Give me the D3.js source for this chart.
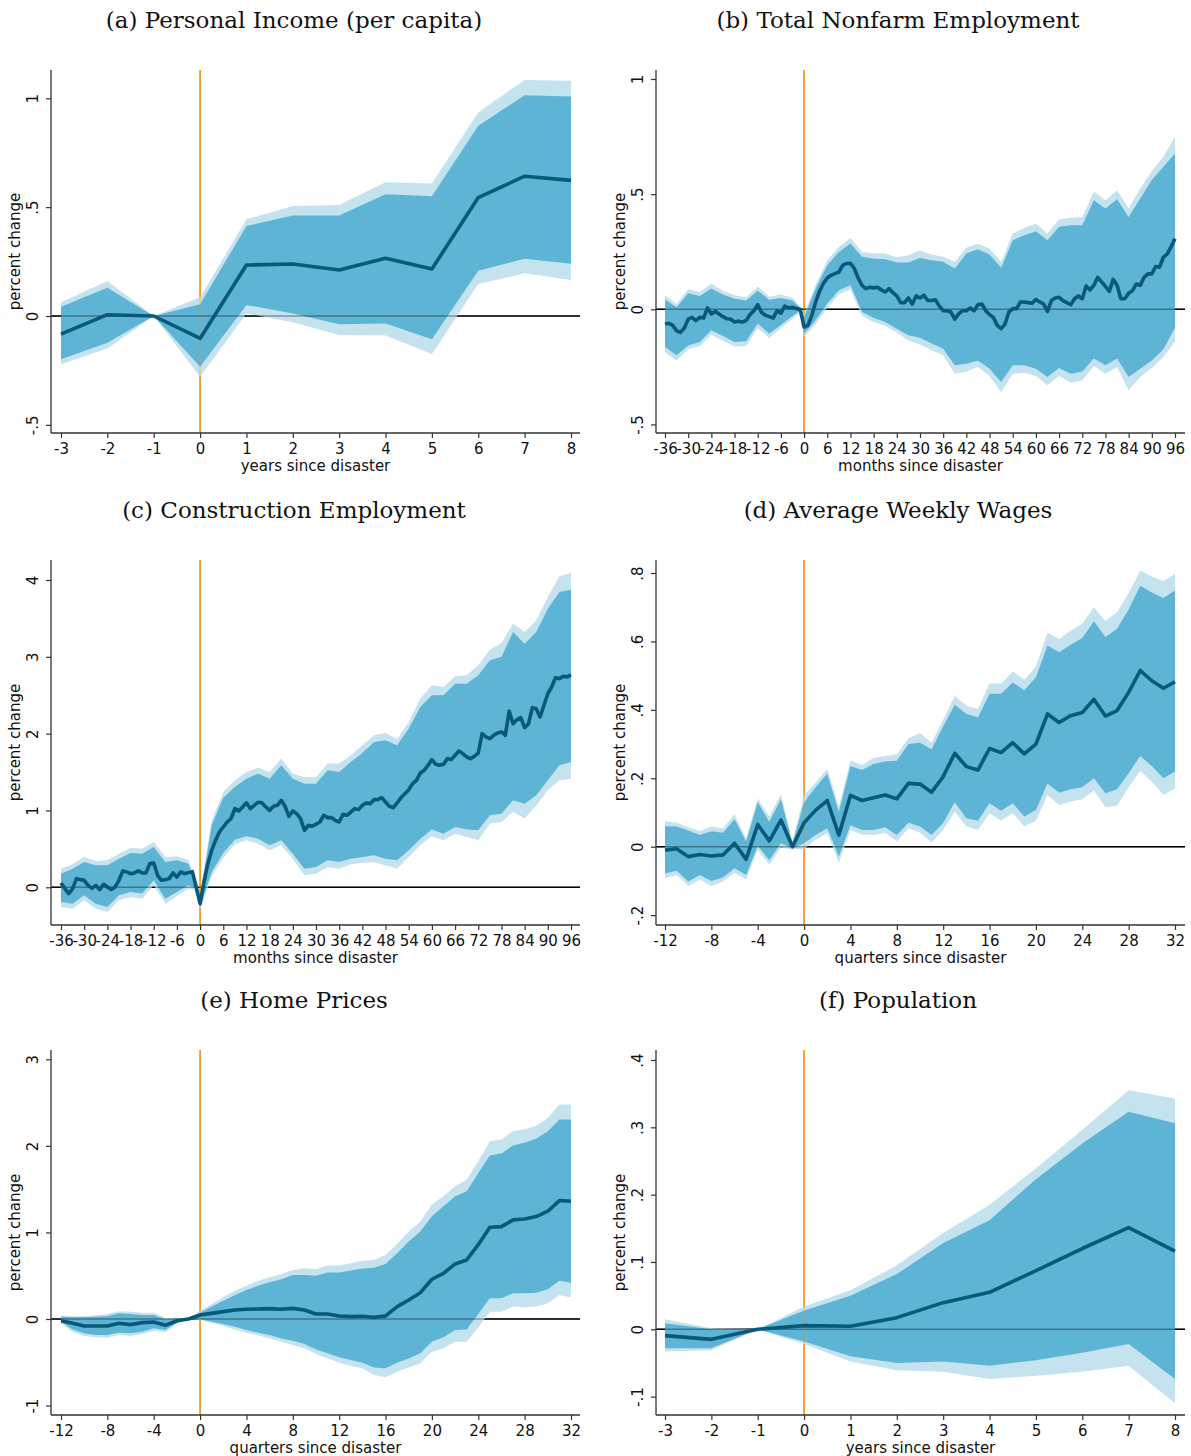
<!DOCTYPE html>
<html>
<head>
<meta charset="utf-8">
<script src="https://cdn.jsdelivr.net/npm/d3@7"></script>
<style>
  html, body { margin: 0; padding: 0; background: #fff; }
  svg { display: block; }
</style>
</head>
<body>
<script>
// ---------------- DATA ----------------
// (a) Personal Income (per capita) - years
const aYears = [-3,-2,-1,0,1,2,3,4,5,6,7,8];
const aMean = [-0.083,0.006,0,-0.103,0.234,0.239,0.211,0.265,0.216,0.544,0.642,0.623];
const aHi90 = [0.043,0.130,0,0.054,0.413,0.462,0.462,0.559,0.550,0.874,1.014,1.008];
const aLo90 = [-0.199,-0.123,0,-0.233,0.051,0.012,-0.038,-0.034,-0.107,0.208,0.263,0.240];
const aHi95 = [0.063,0.161,0,0.086,0.444,0.505,0.510,0.614,0.609,0.936,1.084,1.081];
const aLo95 = [-0.222,-0.149,0,-0.279,0.012,-0.029,-0.087,-0.089,-0.175,0.147,0.196,0.165];

// (b) Total Nonfarm Employment - months
const bMonths = [-36,-35,-34,-33,-32,-31,-30,-29,-28,-27,-26,-25,-24,-23,-22,-21,-20,-19,-18,-17,-16,-15,-14,-13,-12,-11,-10,-9,-8,-7,-6,-5,-4,-3,-2,-1,
  0,1,2,3,4,5,6,7,8,9,10,11,12,13,14,15,16,17,18,19,20,21,22,23,24,25,26,27,28,29,30,31,32,33,34,35,36,37,38,39,40,41,42,43,44,45,46,47,48,
  49,50,51,52,53,54,55,56,57,58,59,60,61,62,63,64,65,66,67,68,69,70,71,72,73,74,75,76,77,78,79,80,81,82,83,84,85,86,87,88,89,90,91,92,93,94,95,96];
const bMean = [-0.064,-0.061,-0.070,-0.093,-0.100,-0.081,-0.043,-0.035,-0.049,-0.035,-0.038,0.006,-0.020,-0.009,-0.020,-0.032,-0.041,-0.043,-0.055,-0.052,-0.055,-0.049,-0.023,-0.006,0.020,-0.014,-0.026,-0.032,-0.038,-0.006,-0.017,0.014,0.006,0.009,0.003,0,
  -0.077,-0.070,-0.026,0.032,0.078,0.112,0.136,0.148,0.155,0.162,0.191,0.199,0.200,0.177,0.136,0.104,0.090,0.096,0.093,0.096,0.084,0.075,0.090,0.072,0.058,0.029,0.029,0.049,0.023,0.058,
  0.049,0.061,0.038,0.038,0.041,0.014,-0.006,-0.006,-0.012,-0.043,-0.020,-0.006,-0.006,0.006,-0.006,0.020,0.023,-0.006,-0.023,-0.035,-0.070,-0.084,-0.064,-0.012,0.003,0.003,0.032,0.032,0.029,0.026,
  0.043,0.032,0.023,-0.009,0.038,0.049,0.052,0.038,0.029,0.020,0.046,0.058,0.046,0.101,0.084,0.104,0.139,0.119,0.099,0.078,0.130,0.104,0.046,0.046,0.070,0.081,0.110,0.104,0.139,0.154,0.154,0.186,0.183,0.226,0.241,0.272,0.307];
const bBandMonths = [-36,-33,-30,-27,-24,-21,-18,-15,-12,-9,-6,-3,-1,0,3,6,9,12,15,18,21,24,27,30,33,36,39,42,45,48,51,54,57,60,63,66,69,72,75,78,81,84,87,90,93,96];
const bHi90 = [0.043,0.009,0.070,0.058,0.090,0.064,0.046,0.038,0.081,0.041,0.049,0.038,0.006,-0.033,0.090,0.191,0.249,0.286,0.228,0.220,0.217,0.203,0.203,0.223,0.213,0.206,0.177,0.242,0.261,0.238,0.180,0.300,0.322,0.339,0.300,0.358,0.365,0.365,0.474,0.438,0.478,0.401,0.481,0.561,0.619,0.677];
const bHi95 = [0.061,0.023,0.087,0.075,0.112,0.081,0.061,0.052,0.099,0.055,0.064,0.049,0.010,-0.020,0.107,0.213,0.271,0.310,0.249,0.242,0.242,0.226,0.235,0.255,0.238,0.228,0.206,0.267,0.286,0.264,0.206,0.329,0.354,0.371,0.329,0.391,0.397,0.401,0.510,0.474,0.517,0.438,0.525,0.600,0.662,0.750];
const bLo90 = [-0.164,-0.200,-0.157,-0.142,-0.091,-0.116,-0.142,-0.139,-0.062,-0.106,-0.067,-0.029,-0.006,-0.106,-0.048,0.025,0.083,0.104,-0.012,-0.038,-0.055,-0.084,-0.113,-0.124,-0.149,-0.171,-0.243,-0.236,-0.222,-0.258,-0.316,-0.243,-0.243,-0.258,-0.294,-0.255,-0.280,-0.270,-0.214,-0.243,-0.214,-0.294,-0.258,-0.222,-0.174,-0.080];
const bLo95 = [-0.186,-0.222,-0.174,-0.159,-0.110,-0.135,-0.161,-0.159,-0.081,-0.125,-0.081,-0.041,-0.012,-0.120,-0.065,0.006,0.064,0.087,-0.029,-0.055,-0.072,-0.101,-0.135,-0.153,-0.178,-0.200,-0.280,-0.270,-0.251,-0.290,-0.360,-0.280,-0.275,-0.290,-0.330,-0.290,-0.319,-0.309,-0.246,-0.280,-0.251,-0.352,-0.294,-0.255,-0.207,-0.140];

// (c) Construction Employment - months
const cMonths = bMonths.slice();
const cMean = [0.056,-0.017,-0.082,-0.017,0.113,0.100,0.091,0.026,-0.013,0.026,-0.030,0.039,0.004,-0.030,0.004,0.091,0.213,0.200,0.178,0.187,0.213,0.187,0.187,0.308,0.317,0.156,0.091,0.100,0.113,0.187,0.134,0.200,0.178,0.191,0.204,0,
  -0.213,0.069,0.308,0.480,0.610,0.720,0.785,0.850,0.894,1.024,0.993,1.046,1.100,1.024,1.067,1.106,1.100,1.046,1.002,1.054,1.067,1.132,1.054,0.924,0.993,0.959,0.894,0.742,0.807,0.795,
  0.820,0.850,0.937,0.907,0.907,0.872,0.850,0.950,0.937,0.980,1.024,1.011,1.067,1.098,1.089,1.141,1.141,1.167,1.111,1.054,1.037,1.098,1.167,1.219,1.271,1.349,1.393,1.488,1.523,1.588,
  1.662,1.601,1.588,1.601,1.675,1.662,1.718,1.774,1.740,1.696,1.675,1.705,1.748,2.000,1.957,1.935,1.978,2.009,2.022,1.978,2.295,2.130,2.182,2.208,2.078,2.130,2.338,2.325,2.217,2.369,2.521,2.607,2.729,2.716,2.746,2.738,2.764];
const cBandMonths = bBandMonths.slice();
const cHi90 = [0.178,0.243,0.330,0.286,0.286,0.373,0.447,0.438,0.525,0.330,0.351,0.308,0.026,-0.126,0.807,1.167,1.306,1.414,1.479,1.414,1.588,1.414,1.349,1.349,1.523,1.501,1.631,1.748,1.892,1.913,1.848,2.065,2.347,2.499,2.499,2.651,2.651,2.759,2.954,2.998,3.323,3.171,3.323,3.627,3.844,3.874];
const cHi95 = [0.243,0.300,0.395,0.343,0.351,0.438,0.516,0.503,0.590,0.395,0.403,0.360,0.048,-0.082,0.872,1.240,1.393,1.501,1.557,1.501,1.675,1.479,1.436,1.436,1.610,1.610,1.718,1.848,1.978,2.009,1.935,2.152,2.456,2.629,2.607,2.746,2.759,2.889,3.093,3.180,3.432,3.323,3.475,3.779,4.048,4.091];
const cLo90 = [-0.191,-0.213,-0.104,-0.213,-0.256,-0.104,-0.061,-0.082,0.091,-0.148,-0.061,0.026,-0.017,-0.256,0.200,0.447,0.620,0.664,0.633,0.547,0.612,0.438,0.243,0.265,0.351,0.330,0.373,0.395,0.416,0.373,0.351,0.482,0.633,0.751,0.698,0.785,0.751,0.742,0.937,0.959,1.132,1.089,1.197,1.393,1.588,1.631];
const cLo95 = [-0.256,-0.278,-0.169,-0.278,-0.321,-0.169,-0.126,-0.148,0.026,-0.213,-0.117,-0.017,-0.039,-0.300,0.143,0.386,0.560,0.612,0.568,0.482,0.547,0.373,0.156,0.178,0.265,0.243,0.300,0.317,0.330,0.286,0.243,0.395,0.547,0.664,0.612,0.698,0.655,0.612,0.829,0.850,0.980,0.894,1.067,1.262,1.393,1.414];

// (d) Average Weekly Wages - quarters
const dQuarters = [-12,-11,-10,-9,-8,-7,-6,-5,-4,-3,-2,-1,0,1,2,3,4,5,6,7,8,9,10,11,12,13,14,15,16,17,18,19,20,21,22,23,24,25,26,27,28,29,30,31,32];
const dMean = [-0.010,-0.006,-0.029,-0.023,-0.027,-0.024,0.010,-0.037,0.065,0.017,0.078,0,0.070,0.107,0.135,0.034,0.150,0.135,0.143,0.151,0.140,0.185,0.183,0.159,0.205,0.273,0.234,0.224,0.287,0.275,0.304,0.271,0.300,0.388,0.363,0.383,0.392,0.431,0.382,0.398,0.451,0.515,0.485,0.463,0.482];
const dHi90 = [0.060,0.059,0.047,0.034,0.045,0.041,0.080,0.015,0.130,0.073,0.139,0.010,0.130,0.174,0.213,0.102,0.236,0.224,0.242,0.249,0.251,0.300,0.304,0.285,0.351,0.415,0.388,0.378,0.447,0.447,0.480,0.457,0.495,0.588,0.568,0.590,0.610,0.659,0.613,0.637,0.693,0.763,0.743,0.727,0.749];
const dHi95 = [0.075,0.070,0.057,0.046,0.059,0.054,0.095,0.024,0.141,0.088,0.154,0.015,0.151,0.188,0.227,0.117,0.252,0.239,0.259,0.265,0.270,0.317,0.332,0.304,0.371,0.441,0.412,0.402,0.478,0.476,0.512,0.488,0.527,0.626,0.607,0.632,0.652,0.700,0.659,0.685,0.741,0.807,0.790,0.776,0.798];
const dLo90 = [-0.078,-0.070,-0.102,-0.083,-0.100,-0.090,-0.063,-0.083,0.002,-0.039,0.010,-0.005,0.010,0.034,0.054,-0.029,0.063,0.049,0.049,0.057,0.034,0.070,0.059,0.034,0.070,0.130,0.083,0.076,0.127,0.105,0.127,0.088,0.107,0.185,0.158,0.168,0.174,0.200,0.156,0.168,0.215,0.265,0.236,0.200,0.220];
const dLo95 = [-0.093,-0.083,-0.115,-0.096,-0.115,-0.102,-0.076,-0.096,-0.010,-0.052,-0.002,-0.008,-0.007,0.020,0.039,-0.047,0.049,0.036,0.034,0.041,0.015,0.054,0.041,0.012,0.049,0.102,0.059,0.049,0.098,0.076,0.098,0.059,0.076,0.151,0.122,0.132,0.139,0.164,0.115,0.120,0.174,0.222,0.190,0.151,0.171];

// (e) Home Prices - quarters
const eQuarters = dQuarters.slice();
const eMean = [-0.020,-0.050,-0.080,-0.080,-0.080,-0.050,-0.065,-0.042,-0.035,-0.073,-0.020,0,
  0.046,0.065,0.085,0.104,0.112,0.116,0.120,0.112,0.123,0.104,0.058,0.058,0.035,0.027,0.031,0.019,0.035,
  0.143,0.220,0.304,0.459,0.528,0.636,0.682,0.859,1.060,1.067,1.145,1.156,1.183,1.245,1.368,1.360];
const eHi90 = [0.027,0.019,0.019,0.027,0.035,0.066,0.058,0.046,0.046,-0.004,0.008,0,
  0.073,0.143,0.212,0.277,0.335,0.385,0.424,0.459,0.509,0.509,0.501,0.536,0.536,0.559,0.582,0.593,
  0.636,0.759,0.894,1.010,1.187,1.302,1.418,1.476,1.688,1.888,1.911,2.004,2.035,2.081,2.170,2.305,2.305];
const eHi95 = [0.035,0.035,0.035,0.042,0.058,0.089,0.085,0.073,0.073,0.012,0.015,0,
  0.096,0.173,0.250,0.328,0.385,0.443,0.482,0.520,0.566,0.586,0.574,0.617,0.617,0.644,0.674,0.682,
  0.740,0.867,1.010,1.125,1.322,1.418,1.534,1.611,1.823,2.054,2.073,2.170,2.193,2.231,2.324,2.478,2.478];
const eLo90 = [-0.031,-0.120,-0.166,-0.185,-0.185,-0.158,-0.166,-0.146,-0.108,-0.127,-0.042,0,
  -0.004,-0.031,-0.058,-0.089,-0.127,-0.158,-0.185,-0.224,-0.250,-0.289,-0.351,-0.397,-0.443,-0.474,-0.505,-0.559,
  -0.570,-0.505,-0.455,-0.397,-0.262,-0.212,-0.127,-0.120,0.058,0.239,0.239,0.297,0.297,0.304,0.343,0.443,0.420];
const eLo95 = [-0.050,-0.146,-0.197,-0.212,-0.216,-0.185,-0.197,-0.173,-0.135,-0.154,-0.058,0,
  -0.012,-0.042,-0.081,-0.120,-0.158,-0.189,-0.224,-0.262,-0.300,-0.339,-0.405,-0.455,-0.505,-0.543,-0.570,-0.647,
  -0.674,-0.609,-0.559,-0.513,-0.378,-0.339,-0.262,-0.262,-0.096,0.085,0.085,0.143,0.135,0.143,0.181,0.277,0.247];

// (f) Population - years
const fYears = [-3,-2,-1,0,1,2,3,4,5,6,7,8];
const fMean = [-0.0094,-0.0149,0,0.0054,0.0045,0.0173,0.0396,0.055,0.087,0.120,0.151,0.116];
const fHi90 = [0.009,0.000,0,0.028,0.050,0.082,0.128,0.162,0.223,0.276,0.323,0.306];
const fHi95 = [0.015,0.0015,0,0.034,0.058,0.095,0.143,0.185,0.239,0.296,0.355,0.343];
const fLo90 = [-0.028,-0.028,0,-0.018,-0.040,-0.050,-0.048,-0.054,-0.046,-0.035,-0.022,-0.074];
const fLo95 = [-0.033,-0.031,0,-0.022,-0.048,-0.061,-0.063,-0.074,-0.069,-0.063,-0.054,-0.110];

// tick labels / titles
const titles = ["(a) Personal Income (per capita)","(b) Total Nonfarm Employment","(c) Construction Employment",
                "(d) Average Weekly Wages","(e) Home Prices","(f) Population"];
const xTitles = ["years since disaster","months since disaster","months since disaster",
                 "quarters since disaster","quarters since disaster","years since disaster"];
const yTitle = "percent change";
const yearTicks = [-3,-2,-1,0,1,2,3,4,5,6,7,8];
const monthTicks = [-36,-30,-24,-18,-12,-6,0,6,12,18,24,30,36,42,48,54,60,66,72,78,84,90,96];
const quarterTicks = [-12,-8,-4,0,4,8,12,16,20,24,28,32];
const aYTicks = [-0.5,0,0.5,1];
const bYTicks = [-0.5,0,0.5,1];
const cYTicks = [0,1,2,3,4];
const dYTicks = [-0.2,0,0.2,0.4,0.6,0.8];
const eYTicks = [-1,0,1,2,3];
const fYTicks = [-0.1,0,0.1,0.2,0.3,0.4];

// ---------------- DRAW ----------------
const W = 1191, H = 1456;
const svg = d3.select("body").append("svg").attr("width", W).attr("height", H);
const SANS = "'DejaVu Sans', 'Noto Sans', sans-serif";
const SERIF = "'DejaVu Serif', 'Liberation Serif', serif";
const ORANGE = "#ec8c1c";
const MEAN_C = "#08587a";
const DARK_BAND = "#5eb4d4";
const LIGHT_BAND = "#c4e3ee";
const AXIS_C = "#333";

const stataFmt = d => {
  let s = String(+d.toFixed(4));
  s = s.replace(/^0\./, ".").replace(/^-0\./, "-.");
  return s;
};

function drawPanel(p) {
  const f = p.frame;
  const g = svg.append("g");
  const x = d3.scaleLinear().domain(p.xDom).range(p.xRng);
  const y = d3.scaleLinear().domain(p.yDom).range(p.yRng);

  // title
  svg.append("text").attr("x", p.titleX).attr("y", f.t - 42)
    .attr("text-anchor", "middle").attr("font-family", SERIF).attr("font-size", 23)
    .attr("fill", "#111").text(p.title);

  // reference lines (under bands)
  g.append("line").attr("x1", f.l).attr("x2", f.r).attr("y1", y(0)).attr("y2", y(0))
    .attr("stroke", "#000").attr("stroke-width", 1.4);
  g.append("line").attr("x1", x(0)).attr("x2", x(0)).attr("y1", f.t).attr("y2", f.b)
    .attr("stroke", ORANGE).attr("stroke-width", 1.5);

  const bx = p.bandX;
  const area = (lo, hi) => d3.area()
    .x((d, i) => x(bx[i])).y0((d, i) => y(lo[i])).y1((d, i) => y(hi[i]));
  g.append("path").datum(bx).attr("d", area(p.lo95, p.hi95)).attr("fill", LIGHT_BAND);
  g.append("path").datum(bx).attr("d", area(p.lo90, p.hi90)).attr("fill", DARK_BAND);

  // reference lines seen through the bands
  g.append("line").attr("x1", f.l).attr("x2", f.r).attr("y1", y(0)).attr("y2", y(0))
    .attr("stroke", "#000").attr("stroke-opacity", 0.35).attr("stroke-width", 1.4);
  g.append("line").attr("x1", x(0)).attr("x2", x(0)).attr("y1", f.t).attr("y2", f.b)
    .attr("stroke", ORANGE).attr("stroke-opacity", 0.3).attr("stroke-width", 1.5);

  // point estimate
  const line = d3.line().x((d, i) => x(p.x[i])).y(d => y(d));
  g.append("path").datum(p.mean).attr("d", line).attr("fill", "none")
    .attr("stroke", MEAN_C).attr("stroke-width", 3.6).attr("stroke-linejoin", "round");

  // x axis
  const xa = g.append("g").attr("transform", `translate(0,${f.b})`)
    .call(d3.axisBottom(x).tickValues(p.xTicks).tickSize(5).tickSizeOuter(0).tickFormat(d => String(d)));
  xa.select(".domain").remove();
  xa.selectAll(".tick line").attr("stroke", AXIS_C).attr("stroke-width", 1.2);
  xa.selectAll(".tick text").attr("y", 10.5).attr("dy", "0.71em")
    .attr("font-family", SANS).attr("font-size", 15).attr("fill", "#111");
  g.append("line").attr("x1", f.l).attr("x2", f.r).attr("y1", f.b).attr("y2", f.b)
    .attr("stroke", AXIS_C).attr("stroke-width", 1.3);

  // y axis
  const ya = g.append("g").attr("transform", `translate(${f.l},0)`)
    .call(d3.axisLeft(y).tickValues(p.yTicks).tickSize(5).tickSizeOuter(0).tickFormat(stataFmt));
  ya.select(".domain").remove();
  ya.selectAll(".tick line").attr("stroke", AXIS_C).attr("stroke-width", 1.2);
  ya.selectAll(".tick text").attr("x", 0).attr("dy", "0")
    .attr("transform", "translate(-13,0) rotate(-90)").attr("text-anchor", "middle")
    .attr("font-family", SANS).attr("font-size", 15).attr("fill", "#111");
  g.append("line").attr("x1", f.l).attr("x2", f.l).attr("y1", f.t).attr("y2", f.b)
    .attr("stroke", AXIS_C).attr("stroke-width", 1.3);

  // axis titles
  g.append("text").attr("x", (f.l + f.r) / 2).attr("y", f.b + 38)
    .attr("text-anchor", "middle").attr("font-family", SANS).attr("font-size", 15)
    .attr("fill", "#111").text(p.xTitle);
  const cy = (f.t + f.b) / 2, cx = f.l - 31;
  g.append("text").attr("transform", `translate(${cx},${cy}) rotate(-90)`)
    .attr("text-anchor", "middle").attr("font-family", SANS).attr("font-size", 15)
    .attr("fill", "#111").text(yTitle);
}

const L = {l: 51, r: 580}, R = {l: 656, r: 1185};
const rows = [{t: 70, b: 433}, {t: 560, b: 925}, {t: 1050, b: 1415}];

drawPanel({frame: {...L, ...rows[0]}, titleX: 294, title: titles[0], xTitle: xTitles[0],
  xDom: [-3, 8], xRng: [61, 571], yDom: [0, 1], yRng: [316, 98.3],
  xTicks: yearTicks, yTicks: aYTicks, x: aYears, mean: aMean,
  bandX: aYears, lo90: aLo90, hi90: aHi90, lo95: aLo95, hi95: aHi95});

drawPanel({frame: {...R, ...rows[0]}, titleX: 898, title: titles[1], xTitle: xTitles[1],
  xDom: [-36, 96], xRng: [665, 1175], yDom: [0, 1], yRng: [309.3, 79],
  xTicks: monthTicks, yTicks: bYTicks, x: bMonths, mean: bMean,
  bandX: bBandMonths, lo90: bLo90, hi90: bHi90, lo95: bLo95, hi95: bHi95});

drawPanel({frame: {...L, ...rows[1]}, titleX: 294, title: titles[2], xTitle: xTitles[2],
  xDom: [-36, 96], xRng: [61, 571], yDom: [0, 4], yRng: [887.3, 580],
  xTicks: monthTicks, yTicks: cYTicks, x: cMonths, mean: cMean,
  bandX: cBandMonths, lo90: cLo90, hi90: cHi90, lo95: cLo95, hi95: cHi95});

drawPanel({frame: {...R, ...rows[1]}, titleX: 898, title: titles[3], xTitle: xTitles[3],
  xDom: [-12, 32], xRng: [665, 1175], yDom: [0, 0.8], yRng: [846.7, 573],
  xTicks: quarterTicks, yTicks: dYTicks, x: dQuarters, mean: dMean,
  bandX: dQuarters, lo90: dLo90, hi90: dHi90, lo95: dLo95, hi95: dHi95});

drawPanel({frame: {...L, ...rows[2]}, titleX: 294, title: titles[4], xTitle: xTitles[4],
  xDom: [-12, 32], xRng: [61, 571], yDom: [0, 3], yRng: [1319, 1059.3],
  xTicks: quarterTicks, yTicks: eYTicks, x: eQuarters, mean: eMean,
  bandX: eQuarters, lo90: eLo90, hi90: eHi90, lo95: eLo95, hi95: eHi95});

drawPanel({frame: {...R, ...rows[2]}, titleX: 898, title: titles[5], xTitle: xTitles[5],
  xDom: [-3, 8], xRng: [665, 1175], yDom: [0, 0.4], yRng: [1329.3, 1060],
  xTicks: yearTicks, yTicks: fYTicks, x: fYears, mean: fMean,
  bandX: fYears, lo90: fLo90, hi90: fHi90, lo95: fLo95, hi95: fHi95});
</script>
</body>
</html>
